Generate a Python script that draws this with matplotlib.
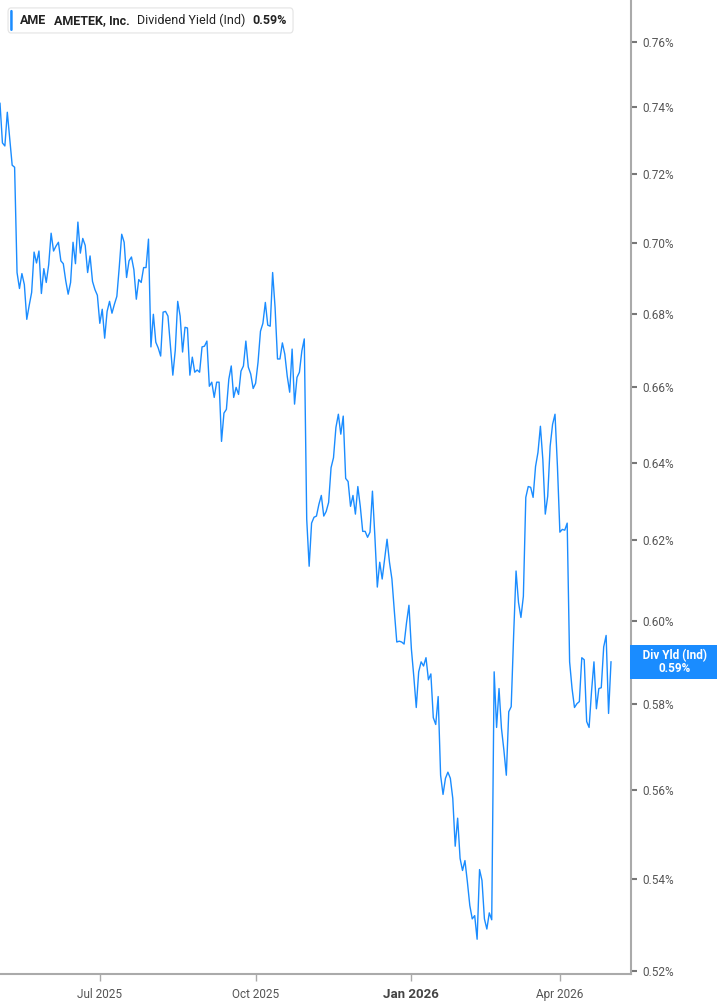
import matplotlib
matplotlib.use('Agg')
import matplotlib.pyplot as plt
import matplotlib.transforms as mtransforms
from matplotlib.patches import FancyBboxPatch
from matplotlib.ticker import FixedLocator, FixedFormatter, NullLocator

plt.rcParams['font.family'] = ['Roboto', 'DejaVu Sans']

# dividend yield (%), one value per trading day, May 2025 - Apr 2026
yld = [
    0.7412, 0.7293, 0.7284, 0.7385, 0.7307, 0.7227, 0.7221, 0.6917, 0.6872, 0.6914,
    0.6883, 0.6786, 0.6825, 0.6861, 0.6975, 0.6944, 0.6978, 0.6858, 0.6928, 0.6889,
    0.6939, 0.7029, 0.6978, 0.6992, 0.7003, 0.6950, 0.6942, 0.6894, 0.6856, 0.6889,
    0.7003, 0.6942, 0.7061, 0.6972, 0.7014, 0.6994, 0.6917, 0.6964, 0.6892, 0.6869,
    0.6853, 0.6775, 0.6814, 0.6734, 0.6808, 0.6836, 0.6803, 0.6828, 0.6850, 0.6933,
    0.7026, 0.7003, 0.6903, 0.6950, 0.6961, 0.6925, 0.6842, 0.6897, 0.6889, 0.6931,
    0.6931, 0.7012, 0.6710, 0.6800, 0.6723, 0.6707,
    0.6685, 0.6806, 0.6808, 0.6795, 0.6712, 0.6633, 0.6701, 0.6836, 0.6795, 0.6696,
    0.6764, 0.6762, 0.6633, 0.6682, 0.6641, 0.6647, 0.6641, 0.6710, 0.6712, 0.6726,
    0.6603, 0.6614, 0.6573, 0.6614, 0.6614, 0.6456, 0.6531, 0.6541, 0.6622, 0.6658,
    0.6573, 0.6600, 0.6581, 0.6644, 0.6658, 0.6726, 0.6655, 0.6636, 0.6597, 0.6611,
    0.6668, 0.6753, 0.6775, 0.6833, 0.6770, 0.6767, 0.6917, 0.6819, 0.6677, 0.6677,
    0.6721, 0.6690, 0.6630, 0.6587, 0.6704, 0.6555, 0.6627, 0.6641, 0.6699, 0.6732,
    0.6254, 0.6135, 0.6244, 0.6259, 0.6262, 0.6292, 0.6315, 0.6262, 0.6274, 0.6297,
    0.6387, 0.6413, 0.6493, 0.6528, 0.6475, 0.6523, 0.6359, 0.6351, 0.6287, 0.6315,
    0.6267, 0.6338, 0.6287, 0.6223, 0.6223, 0.6208, 0.6221, 0.6326, 0.6210, 0.6083,
    0.6145, 0.6103, 0.6153, 0.6203, 0.6145, 0.6103, 0.6023, 0.5948, 0.5950, 0.5948,
    0.5943, 0.5995, 0.6038, 0.5931, 0.5864, 0.5791,
    0.5876, 0.5900, 0.5890, 0.5910, 0.5857, 0.5871, 0.5767, 0.5751, 0.5817, 0.5633,
    0.5589, 0.5626, 0.5640, 0.5626, 0.5580, 0.5472, 0.5535, 0.5445, 0.5418, 0.5440,
    0.5393, 0.5341, 0.5312, 0.5319, 0.5268, 0.5420, 0.5396, 0.5312, 0.5290, 0.5325,
    0.5310, 0.5876, 0.5744, 0.5836, 0.5742, 0.5691, 0.5633, 0.5781, 0.5793, 0.5964,
    0.6123, 0.6045, 0.6008, 0.6060, 0.6310, 0.6338, 0.6336, 0.6310, 0.6390, 0.6427,
    0.6496, 0.6408, 0.6267, 0.6313, 0.6443, 0.6501, 0.6528, 0.6390, 0.6221, 0.6228,
    0.6226, 0.6244, 0.5900, 0.5836, 0.5791, 0.5800, 0.5805, 0.5910, 0.5905, 0.5758,
    0.5744, 0.5829, 0.5900, 0.5788, 0.5836, 0.5838, 0.5936, 0.5964, 0.5777, 0.5900,
]
days = list(range(len(yld)))

# first trading session of each labelled month
month_idx = [41, 105, 169, 230]
month_lbl = ['Jul 2025', 'Oct 2025', 'Jan 2026', 'Apr 2026']

ytick_vals = [0.52, 0.54, 0.56, 0.58, 0.60, 0.62, 0.64, 0.66, 0.68, 0.70, 0.72, 0.74, 0.76]
ytick_lbl = ['%.2f%%' % v for v in ytick_vals]

last_val = '0.59%'
blue = '#1a8cff'
grey = '#aaaaaa'

fig = plt.figure(figsize=(7.17, 10.05), dpi=100)
ax = fig.add_axes([0.0, 0.0308, 0.880, 0.9692])

ax.plot(days, yld, color=blue, lw=1.0)

ax.set_yscale('log')
ax.set_ylim(0.51936, 0.77315)
ax.set_xlim(0, 259.2)

ax.yaxis.set_major_locator(FixedLocator(ytick_vals))
ax.yaxis.set_major_formatter(FixedFormatter(ytick_lbl))
ax.yaxis.set_minor_locator(NullLocator())
ax.yaxis.tick_right()
ax.tick_params(axis='y', which='major', direction='out', length=4, width=1.5,
               color='#777777', labelcolor='#555555', labelsize=8.5, pad=4)

ax.set_xticks(month_idx)
ax.set_xticklabels(month_lbl)
ax.tick_params(axis='x', direction='out', length=5, width=1, color=grey,
               labelcolor='#555555', labelsize=8.5, pad=5)
for t in ax.get_xticklabels():
    if t.get_text().startswith('Jan'):
        t.set_fontweight('bold')
        t.set_fontsize(9.5)
        t.set_color('#444444')

for s in ['top', 'left']:
    ax.spines[s].set_visible(False)
for s in ['right', 'bottom']:
    ax.spines[s].set_color(grey)
    ax.spines[s].set_linewidth(1.5)

# current value tag on the right axis
tr = mtransforms.blended_transform_factory(fig.transFigure, ax.transData)
ax.text(0.9415, yld[-1], '   Div Yld (Ind)   \n' + last_val, transform=tr,
        ha='center', va='center', color='white', fontsize=8.5, fontweight='bold',
        linespacing=1.0, clip_on=False,
        bbox=dict(boxstyle='square,pad=0.35', facecolor=blue, edgecolor='none'))

# header legend box
box = FancyBboxPatch((0.0112, 0.9672), 0.3975, 0.0249, transform=fig.transFigure,
                     boxstyle='round,pad=0,rounding_size=0.004', facecolor='white',
                     edgecolor='#e3e3e3', lw=0.8)
fig.patches.append(box)
bar = FancyBboxPatch((0.0142, 0.9692), 0.0035, 0.0209, transform=fig.transFigure,
                     boxstyle='round,pad=0,rounding_size=0.0015', facecolor=blue,
                     edgecolor='none')
fig.patches.append(bar)
hy = 0.9795
fig.text(20 / 717, hy, 'AME', fontsize=9, fontweight='bold', color='#222222', va='center')
fig.text(54 / 717, hy, 'AMETEK, Inc.', fontsize=9, fontweight='bold', color='#222222', va='center')
fig.text(137 / 717, hy, 'Dividend Yield (Ind)', fontsize=9, color='#222222', va='center')
fig.text(252 / 717, hy, last_val, fontsize=9, fontweight='bold', color='#222222', va='center')

fig.savefig('out.png', dpi=100)
